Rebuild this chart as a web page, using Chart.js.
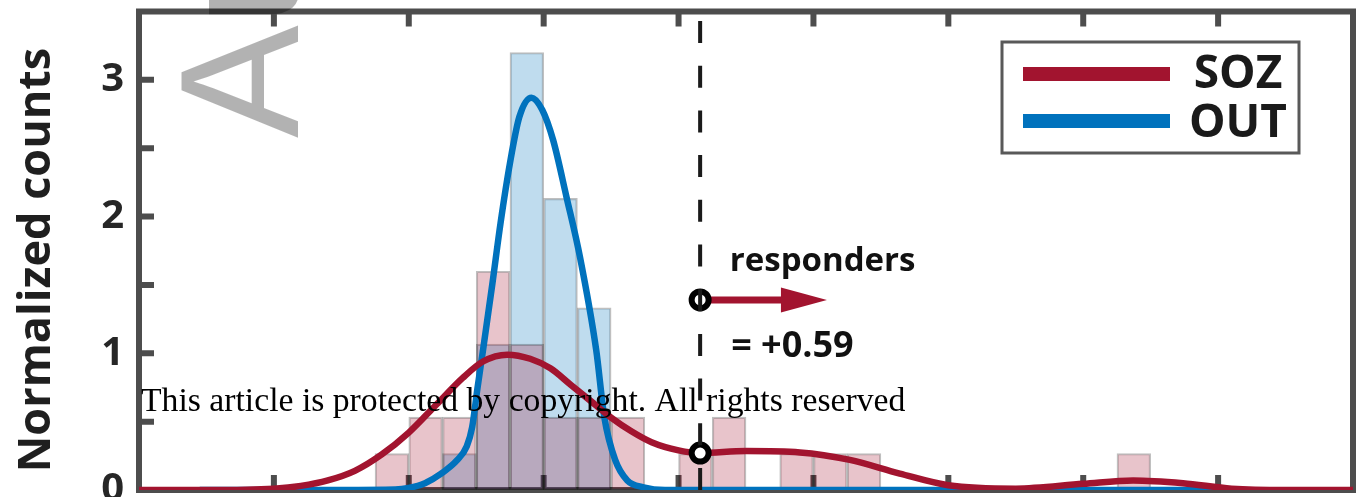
<!DOCTYPE html>
<html>
<head>
<meta charset="utf-8">
<script src="https://cdn.jsdelivr.net/npm/chart.js@4.4.1/dist/chart.umd.min.js"></script>
<style>
  html, body { margin: 0; padding: 0; background: #fff; overflow: hidden; }
  canvas { display: block; }
</style>
</head>
<body>
<canvas id="chart" width="1359" height="497"></canvas>
<script>
// histogram bins (centres, width 0.25) and normalized counts
const binCenters = [1.875, 2.125, 2.375, 2.625, 2.875, 3.125, 3.375, 3.625, 3.875, 4.125, 4.375, 4.625,
                    4.875, 5.125, 5.375, 5.625, 5.875, 6.125, 6.375, 6.625, 6.875, 7.125, 7.375];
const sozHist = [0.267, 0.533, 0.533, 1.6, 1.067, 0.533, 0.533, 0.533, 0, 0.267, 0.533, 0,
                 0.267, 0.267, 0.267, 0, 0, 0, 0, 0, 0, 0, 0.267];
const outHist = [0, 0, 0.267, 1.067, 3.2, 2.133, 1.333, 0, 0, 0, 0, 0,
                 0, 0, 0, 0, 0, 0, 0, 0, 0, 0, 0];

// smoothed density curves
const sozKdeX = [0, 0.5, 1.0, 1.2, 1.4, 1.6, 1.8, 2.0, 2.2, 2.4, 2.55, 2.73, 2.9, 3.05, 3.2, 3.35, 3.5,
                 3.65, 3.8, 4.0, 4.16, 4.5, 4.9, 5.27, 5.64, 6.0, 6.5, 7.0, 7.37, 7.74, 8.1, 8.5, 9.0];
const sozKdeY = [0, 0, 0.01, 0.03, 0.07, 0.14, 0.26, 0.42, 0.62, 0.82, 0.94, 0.99, 0.96, 0.89, 0.77, 0.65, 0.53,
                 0.43, 0.35, 0.29, 0.27, 0.285, 0.275, 0.22, 0.12, 0.035, 0.01, 0.045, 0.07, 0.05, 0.01, 0, 0];
const outKdeX = [0.45, 1.5, 1.9, 2.0, 2.12, 2.24, 2.36, 2.43, 2.47, 2.51, 2.55, 2.62, 2.68, 2.75, 2.82, 2.91,
                 2.99, 3.07, 3.17, 3.27, 3.39, 3.45, 3.53, 3.62, 3.74, 3.9, 5.0, 8.1];
const outKdeY = [0, 0, 0.003, 0.015, 0.05, 0.12, 0.22, 0.32, 0.46, 0.75, 1.02, 1.51, 1.95, 2.39, 2.73, 2.87,
                 2.78, 2.56, 2.14, 1.70, 1.02, 0.53, 0.22, 0.07, 0.02, 0, 0, 0];

const xTicks = [1, 2, 3, 4, 5, 6, 7, 8];
const yLabels = [0, 1, 2, 3];

// responders marker
const threshold = 4.16;
const crossY = 0.27;
const arrowY = 1.39;
const arrowTip = 5.1;
const respondersLabel = 'responders';
const deltaLabel = '= +0.59';

const SOZ_RED = '#A2142F';
const OUT_BLUE = '#0072BD';
const AXIS = '#4d4d4d';
const BOLD = '"Open Sans", "DejaVu Sans", sans-serif';

const toPoints = (xs, ys) => xs.map((x, i) => ({ x, y: ys[i] }));

const framePlugin = {
    id: 'frame',
    beforeDatasetsDraw(chart) {
        const { ctx, chartArea: a, scales: { x, y } } = chart;
        ctx.save();
        ctx.strokeStyle = AXIS;
        ctx.lineWidth = 6;
        ctx.strokeRect(a.left, a.top, a.right - a.left, a.bottom - a.top);
        ctx.beginPath();
        xTicks.forEach(v => {
            const px = x.getPixelForValue(v);
            ctx.moveTo(px, a.bottom); ctx.lineTo(px, a.bottom - 15);
            ctx.moveTo(px, a.top); ctx.lineTo(px, a.top + 15);
        });
        y.ticks.forEach(t => {
            if (t.value <= y.min || t.value >= y.max) return;
            const py = y.getPixelForValue(t.value);
            ctx.moveTo(a.left, py); ctx.lineTo(a.left + 15, py);
        });
        ctx.stroke();
        ctx.restore();
    },
    afterDatasetsDraw(chart) {
        const { ctx, chartArea: a, scales: { x, y } } = chart;
        const tx = x.getPixelForValue(threshold);
        const ay = y.getPixelForValue(arrowY);
        const tip = x.getPixelForValue(arrowTip);
        ctx.save();

        // arrow
        ctx.strokeStyle = SOZ_RED;
        ctx.fillStyle = SOZ_RED;
        ctx.lineWidth = 7;
        ctx.beginPath();
        ctx.moveTo(tx, ay); ctx.lineTo(tip - 40, ay);
        ctx.stroke();
        ctx.beginPath();
        ctx.moveTo(tip, ay); ctx.lineTo(tip - 46, ay - 12.5); ctx.lineTo(tip - 46, ay + 12.5);
        ctx.closePath();
        ctx.fill();

        // ring markers
        [arrowY, crossY].forEach(v => {
            ctx.beginPath();
            ctx.arc(tx, y.getPixelForValue(v), 8.5, 0, Math.PI * 2);
            ctx.fillStyle = '#fff';
            ctx.fill();
            ctx.lineWidth = 6;
            ctx.strokeStyle = '#000';
            ctx.stroke();
        });

        // dashed threshold line
        ctx.setLineDash([22, 22.7]);
        ctx.lineWidth = 4;
        ctx.strokeStyle = '#1a1a1a';
        ctx.beginPath();
        ctx.moveTo(tx, a.bottom); ctx.lineTo(tx, a.top);
        ctx.stroke();
        ctx.setLineDash([]);

        ctx.fillStyle = '#111';
        ctx.textAlign = 'left';
        ctx.textBaseline = 'alphabetic';
        ctx.font = 'bold 33px ' + BOLD;
        ctx.fillText(respondersLabel, x.getPixelForValue(4.38), y.getPixelForValue(1.6));
        ctx.font = 'bold 36px ' + BOLD;
        ctx.fillText(deltaLabel, x.getPixelForValue(4.39), y.getPixelForValue(0.97));
        ctx.restore();
    },
    afterDraw(chart) {
        const { ctx } = chart;
        ctx.save();

        // legend box
        ctx.fillStyle = '#fff';
        ctx.fillRect(1002, 42, 297, 111);
        ctx.strokeStyle = '#595959';
        ctx.lineWidth = 3;
        ctx.strokeRect(1002, 42, 297, 111);
        const lines = chart.data.datasets.filter(d => d.type === 'line');
        ctx.font = 'bold 46px ' + BOLD;
        ctx.textAlign = 'center';
        ctx.textBaseline = 'alphabetic';
        lines.forEach((d, i) => {
            const ly = 74 + i * 47;
            ctx.strokeStyle = d.borderColor;
            ctx.lineWidth = 14;
            ctx.beginPath();
            ctx.moveTo(1023, ly); ctx.lineTo(1170, ly);
            ctx.stroke();
            ctx.fillStyle = '#1a1a1a';
            ctx.fillText(d.label, 1238, 88 + i * 49);
        });

        // y axis title
        ctx.save();
        ctx.translate(50, 260);
        ctx.rotate(-Math.PI / 2);
        ctx.font = 'bold 45px ' + BOLD;
        ctx.fillStyle = '#1f1f1f';
        ctx.fillText('Normalized counts', 0, 0);
        ctx.restore();

        // copyright line
        ctx.textAlign = 'left';
        ctx.font = '33.7px "Liberation Serif", serif';
        ctx.fillStyle = '#000';
        ctx.fillText('This article is protected by copyright. All rights reserved', 141, 411);

        // watermark
        ctx.translate(298, 138);
        ctx.rotate(-Math.PI / 2);
        ctx.font = '169px "Liberation Sans", sans-serif';
        ctx.fillStyle = 'rgba(0, 0, 0, 0.3)';
        ctx.fillText('Author Manuscript', 0, 0);
        ctx.restore();
    }
};

const barStyle = {
    type: 'bar',
    borderColor: 'rgba(0, 0, 0, 0.25)',
    borderWidth: 1.5,
    borderSkipped: false,
    grouped: false,
    barPercentage: 1,
    categoryPercentage: 1,
};

new Chart(document.getElementById('chart'), {
    type: 'bar',
    data: {
        datasets: [
            {
                type: 'line', label: 'SOZ', data: toPoints(sozKdeX, sozKdeY),
                borderColor: SOZ_RED, borderWidth: 6.5, pointRadius: 0,
                cubicInterpolationMode: 'monotone', order: 1,
            },
            {
                type: 'line', label: 'OUT', data: toPoints(outKdeX, outKdeY),
                borderColor: OUT_BLUE, borderWidth: 6.5, pointRadius: 0,
                cubicInterpolationMode: 'monotone', order: 2,
            },
            {
                ...barStyle, label: 'SOZ hist', data: toPoints(binCenters, sozHist),
                backgroundColor: 'rgba(162, 20, 47, 0.25)', order: 3,
            },
            {
                ...barStyle, label: 'OUT hist', data: toPoints(binCenters, outHist),
                backgroundColor: 'rgba(0, 114, 189, 0.25)', order: 4,
            },
        ],
    },
    options: {
        responsive: false,
        animation: false,
        devicePixelRatio: 1,
        layout: { padding: { top: 11.5, right: 6, bottom: 7, left: 0 } },
        plugins: { legend: { display: false }, tooltip: { enabled: false } },
        scales: {
            x: { type: 'linear', min: 0, max: 9, offset: false, display: false },
            y: {
                min: 0,
                max: 3.5,
                afterFit: s => {
                    s.width = 139;
                    s.paddingTop = 0;
                    s.paddingBottom = 0;
                },
                border: { display: false },
                grid: { display: false, drawTicks: false },
                ticks: {
                    stepSize: 0.5,
                    padding: 15,
                    color: '#262626',
                    font: { family: 'Open Sans', weight: 'bold', size: 40 },
                    callback: v => yLabels.includes(v) ? String(v) : '',
                },
            },
        },
    },
    plugins: [framePlugin],
});
</script>
</body>
</html>
